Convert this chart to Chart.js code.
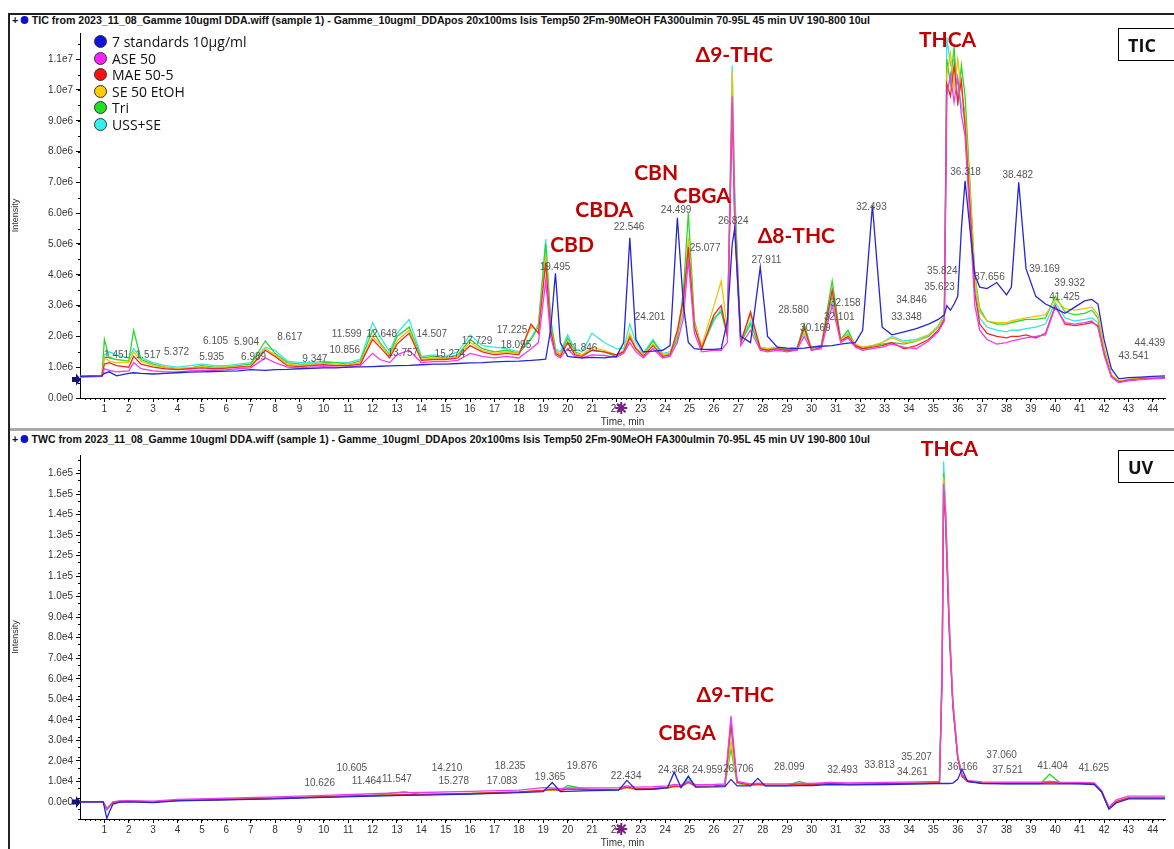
<!DOCTYPE html>
<html lang="en">
<head>
<meta charset="UTF-8">
<title>TIC / UV chromatograms</title>
<script src="https://cdn.jsdelivr.net/npm/chart.js"></script>
<style>
  body { margin: 0; background: #fff; width: 1174px; height: 849px; overflow: hidden; position: relative; font-family: "Liberation Sans", Arial, sans-serif; }
  canvas { position: absolute; }
  .line { position: absolute; background: #222; }
  .ptitle { position: absolute; left: 12px; font: bold 11px "Liberation Sans Narrow", "Liberation Sans", sans-serif; color: #111; white-space: nowrap; transform-origin: left center; }
  .ptitle .dot { display: inline-block; width: 8px; height: 8px; border-radius: 50%; background: #1010d0; margin: 0 3px 0 3px; }
  .legend { position: absolute; left: 94px; top: 34px; font: 14px "Open Sans", sans-serif; color: #111; line-height: 16.6px; }
  .legend div { white-space: nowrap; }
  .legend i { display: inline-block; width: 11px; height: 11px; border-radius: 50%; border: 1px solid #333; margin-right: 5px; vertical-align: -1px; }
  .tag { position: absolute; left: 1118px; width: 60px; height: 33px; border: 1px solid #000; font: bold 18px "Open Sans", sans-serif; line-height: 33px; padding-left: 9px; box-sizing: border-box; color: #111; }
</style>
</head>
<body>
<div class="line" style="left:8px;top:13px;width:1166px;height:2px"></div>
<div class="line" style="left:8px;top:13px;width:2px;height:836px"></div>
<div class="line" style="left:10px;top:428px;width:1164px;height:3px;background:#aaa"></div>

<div class="ptitle" id="t1" style="top:14px">+<span class="dot"></span>TIC from 2023_11_08_Gamme 10ugml DDA.wiff (sample 1) - Gamme_10ugml_DDApos 20x100ms Isis Temp50 2Fm-90MeOH FA300ulmin 70-95L 45 min UV 190-800 10ul</div>
<div class="ptitle" id="t2" style="top:433px">+<span class="dot"></span>TWC from 2023_11_08_Gamme 10ugml DDA.wiff (sample 1) - Gamme_10ugml_DDApos 20x100ms Isis Temp50 2Fm-90MeOH FA300ulmin 70-95L 45 min UV 190-800 10ul</div>

<canvas id="tic" width="1164" height="412" style="left:10px;top:16px"></canvas>
<canvas id="uv" width="1164" height="416" style="left:10px;top:433px"></canvas>

<div class="legend" id="legend"></div>
<div class="tag" style="top:28px">TIC</div>
<div class="tag" style="top:450px">UV</div>

<script>
// ---- series names / colours ----
const seriesNames = ["7 standards 10\u00b5g/ml", "ASE 50", "MAE 50-5", "SE 50 EtOH", "Tri", "USS+SE"];
const lineColors = ["#2626d4", "#f03cf0", "#f02828", "#ecc400", "#2ad82a", "#3ae4e4"];
const dotColors = ["#1010e0", "#ff20ff", "#ff1010", "#ffcc00", "#20e020", "#30f0f0"];

// ---- TIC (intensity in 1e6) ----
const tTic = [
  0, 0.9, 1.0, 1.2, 1.5, 2.0, 2.2, 2.5, 3.0, 3.5,
  4.0, 4.5, 5.0, 5.5, 6.0, 6.5, 7.0, 7.6, 8.0, 8.5,
  9.0, 9.5, 10.0, 10.5, 11.0, 11.5, 12.0, 12.3, 12.7, 13.0,
  13.5, 14.0, 14.5, 15.0, 15.5, 16.0, 16.5, 17.0, 17.5, 18.0,
  18.5, 18.8, 19.1, 19.3, 19.5, 19.7, 20.0, 20.3, 20.6, 21.0,
  21.5, 22.0, 22.3, 22.55, 22.8, 23.1, 23.5, 23.9, 24.2, 24.5,
  24.75, 24.95, 25.2, 25.5, 26.0, 26.3, 26.55, 26.75, 26.85, 27.1,
  27.5, 27.9, 28.2, 28.6, 29.0, 29.4, 29.7, 30.0, 30.4, 30.85,
  31.2, 31.5, 31.8, 32.1, 32.5, 32.9, 33.3, 33.8, 34.3, 34.8,
  35.2, 35.45, 35.55, 35.7, 35.85, 36.0, 36.15, 36.3, 36.5, 36.7,
  36.9, 37.2, 37.6, 38.0, 38.2, 38.5, 38.8, 39.2, 39.6, 40.0,
  40.4, 40.8, 41.2, 41.5, 41.75, 42.0, 42.3, 42.6, 43.0, 43.5,
  44.0, 44.5
];
const ticStd = [
  0.70, 0.72, 0.80, 0.85, 0.72, 0.80, 0.82, 0.80, 0.78, 0.80,
  0.82, 0.84, 0.85, 0.86, 0.87, 0.88, 0.92, 0.90, 0.92, 0.93,
  0.95, 0.96, 0.98, 0.98, 1.00, 1.01, 1.02, 1.03, 1.04, 1.05,
  1.06, 1.08, 1.10, 1.10, 1.12, 1.14, 1.15, 1.17, 1.19, 1.20,
  1.22, 1.24, 1.26, 2.20, 4.05, 1.80, 1.35, 1.32, 1.30, 1.32,
  1.30, 1.35, 1.80, 5.20, 1.90, 1.50, 1.52, 1.55, 1.70, 5.85,
  3.00, 1.80, 1.60, 1.58, 1.58, 1.60, 2.50, 5.00, 5.50, 2.00,
  1.80, 4.25, 2.00, 1.65, 1.62, 1.60, 1.62, 1.65, 1.68, 1.70,
  1.75, 1.78, 1.80, 2.20, 6.25, 2.30, 2.05, 2.15, 2.25, 2.40,
  2.55, 2.70, 3.00, 2.85, 3.05, 3.30, 5.50, 7.05, 5.50, 4.00,
  3.60, 3.55, 3.75, 3.35, 3.60, 7.00, 4.20, 3.30, 3.05, 2.90,
  2.75, 2.95, 3.15, 3.20, 3.05, 1.90, 0.95, 0.62, 0.66, 0.68,
  0.70, 0.72
];
const ticAse = [
  0.68, 0.70, 0.95, 0.90, 0.85, 0.88, 1.15, 0.95, 0.88, 0.85,
  0.85, 0.88, 0.90, 0.90, 0.92, 0.95, 0.98, 1.30, 1.15, 1.00,
  0.98, 1.00, 1.02, 1.00, 1.00, 1.05, 1.45, 1.25, 1.15, 1.40,
  1.55, 1.15, 1.18, 1.18, 1.22, 1.45, 1.35, 1.30, 1.35, 1.30,
  1.60, 1.80, 3.80, 2.00, 1.40, 1.30, 1.60, 1.35, 1.30, 1.40,
  1.38, 1.32, 1.45, 1.80, 1.50, 1.30, 1.60, 1.30, 1.35, 1.80,
  2.60, 4.50, 2.10, 1.50, 1.55, 1.55, 1.80, 9.80, 5.70, 1.70,
  2.20, 1.55, 1.50, 1.55, 1.50, 1.55, 2.00, 1.55, 1.60, 3.00,
  1.80, 1.95, 1.65, 1.55, 1.60, 1.65, 1.75, 1.65, 1.60, 1.85,
  2.15, 2.50, 9.80, 10.5, 9.60, 10.4, 9.20, 8.50, 5.80, 3.00,
  2.20, 1.90, 1.75, 1.80, 1.85, 1.90, 1.95, 2.00, 2.05, 2.95,
  2.45, 2.40, 2.45, 2.50, 2.30, 1.40, 0.68, 0.50, 0.56, 0.60,
  0.62, 0.64
];
const ticMae = [
  0.70, 0.72, 1.10, 1.15, 1.05, 1.00, 1.35, 1.10, 1.00, 0.95,
  0.92, 0.95, 0.98, 0.95, 0.97, 1.00, 1.02, 1.55, 1.35, 1.05,
  1.02, 1.05, 1.08, 1.05, 1.05, 1.10, 1.90, 1.65, 1.30, 1.75,
  2.10, 1.22, 1.25, 1.25, 1.30, 1.70, 1.50, 1.40, 1.45, 1.40,
  2.40, 2.10, 4.40, 2.20, 1.45, 1.35, 1.80, 1.40, 1.35, 1.55,
  1.50, 1.40, 1.50, 1.95, 1.60, 1.35, 1.70, 1.35, 1.40, 2.20,
  3.20, 4.90, 2.30, 1.60, 2.70, 3.00, 2.00, 9.60, 5.90, 1.80,
  2.80, 1.60, 1.55, 1.60, 1.55, 1.55, 2.30, 1.55, 1.65, 3.50,
  1.85, 2.00, 1.70, 1.60, 1.65, 1.70, 1.80, 1.60, 1.70, 1.90,
  2.20, 2.55, 10.2, 9.80, 10.8, 9.60, 10.3, 8.80, 6.20, 3.40,
  2.40, 2.10, 2.00, 1.95, 2.00, 2.00, 2.05, 1.95, 2.10, 3.00,
  2.40, 2.35, 2.40, 2.45, 2.35, 1.45, 0.70, 0.52, 0.58, 0.62,
  0.64, 0.66
];
const ticSe = [
  0.70, 0.72, 1.30, 1.20, 1.15, 1.15, 1.50, 1.20, 1.05, 1.00,
  0.95, 0.98, 1.02, 0.98, 1.00, 1.02, 1.05, 1.60, 1.40, 1.10,
  1.05, 1.08, 1.12, 1.10, 1.08, 1.15, 2.00, 1.75, 1.35, 1.85,
  2.20, 1.25, 1.30, 1.28, 1.35, 1.80, 1.55, 1.45, 1.50, 1.45,
  2.30, 2.20, 4.60, 2.30, 1.50, 1.40, 1.85, 1.45, 1.40, 1.65,
  1.55, 1.40, 1.55, 2.10, 1.65, 1.40, 1.75, 1.40, 1.45, 2.10,
  3.00, 5.20, 2.40, 1.70, 3.00, 3.80, 2.20, 10.6, 6.20, 1.85,
  2.70, 1.65, 1.60, 1.65, 1.60, 1.60, 2.20, 1.65, 1.70, 3.40,
  1.90, 2.05, 1.75, 1.65, 1.70, 1.80, 1.95, 1.80, 1.85, 2.05,
  2.30, 2.65, 10.5, 11.2, 10.0, 11.0, 10.0, 9.20, 6.80, 3.90,
  2.80, 2.50, 2.45, 2.45, 2.50, 2.55, 2.60, 2.65, 2.70, 3.20,
  2.90, 2.85, 2.90, 2.95, 2.70, 1.65, 0.75, 0.55, 0.60, 0.64,
  0.66, 0.68
];
const ticTri = [
  0.70, 0.72, 1.90, 1.30, 1.25, 1.20, 2.20, 1.25, 1.10, 1.00,
  0.95, 0.98, 1.05, 1.00, 1.00, 1.05, 1.10, 1.85, 1.45, 1.15,
  1.10, 1.10, 1.15, 1.15, 1.10, 1.20, 2.20, 1.80, 1.40, 2.00,
  2.30, 1.30, 1.35, 1.30, 1.40, 1.90, 1.60, 1.50, 1.55, 1.45,
  1.90, 2.30, 5.00, 2.50, 1.55, 1.40, 1.95, 1.50, 1.40, 1.55,
  1.50, 1.35, 1.50, 2.00, 1.60, 1.40, 1.85, 1.40, 1.45, 1.90,
  3.50, 6.00, 2.50, 1.60, 2.60, 2.80, 2.00, 10.0, 6.50, 1.80,
  2.40, 1.60, 1.55, 1.60, 1.55, 1.60, 2.40, 1.60, 1.70, 3.80,
  1.90, 2.20, 1.70, 1.60, 1.70, 1.75, 1.80, 1.75, 1.85, 2.00,
  2.30, 2.60, 11.0, 10.2, 11.4, 9.50, 10.8, 9.80, 7.00, 4.00,
  2.90, 2.50, 2.40, 2.40, 2.45, 2.50, 2.55, 2.55, 2.60, 3.30,
  2.80, 2.70, 2.75, 2.85, 2.60, 1.60, 0.75, 0.55, 0.60, 0.65,
  0.65, 0.68
];
const ticUss = [
  0.68, 0.70, 1.40, 1.50, 1.40, 1.30, 1.60, 1.30, 1.15, 1.05,
  1.00, 1.05, 1.10, 1.05, 1.05, 1.10, 1.15, 1.65, 1.55, 1.20,
  1.15, 1.15, 1.20, 1.15, 1.15, 1.25, 2.45, 2.00, 1.50, 2.10,
  2.55, 1.35, 1.40, 1.35, 1.50, 2.05, 1.70, 1.65, 1.60, 1.50,
  1.95, 2.40, 5.15, 2.60, 1.60, 1.50, 2.05, 1.60, 1.50, 2.10,
  1.80, 1.60, 1.60, 2.40, 1.80, 1.45, 1.90, 1.45, 1.50, 2.00,
  2.80, 4.80, 2.30, 1.65, 2.50, 2.90, 2.10, 10.8, 6.80, 1.85,
  2.50, 1.65, 1.60, 1.65, 1.60, 1.65, 2.10, 1.65, 1.70, 3.20,
  1.90, 2.10, 1.70, 1.65, 1.70, 1.80, 2.00, 1.85, 1.90, 2.05,
  2.35, 2.70, 11.7, 10.8, 11.0, 10.3, 9.50, 9.00, 6.50, 3.60,
  2.60, 2.30, 2.20, 2.15, 2.20, 2.20, 2.25, 2.30, 2.40, 3.10,
  2.60, 2.50, 2.55, 2.60, 2.45, 1.50, 0.70, 0.52, 0.58, 0.62,
  0.64, 0.66
];

// ---- UV / TWC (intensity in 1e4) ----
const tUv = [
  0, 0.95, 1.1, 1.2, 1.35, 1.6, 2.0, 3.0, 4.0, 6.0,
  8.0, 10.0, 12.0, 13.3, 14.0, 16.0, 18.0, 19.0, 19.37, 19.7,
  20.0, 21.0, 22.1, 22.43, 22.8, 23.5, 24.1, 24.37, 24.65, 24.95,
  25.25, 26.0, 26.45, 26.7, 26.95, 27.5, 27.8, 28.1, 29.0, 29.5,
  30.0, 30.75, 31.5, 33.0, 34.5, 35.25, 35.36, 35.42, 35.5, 35.65,
  35.8, 36.0, 36.17, 36.4, 37.0, 38.0, 39.4, 39.77, 40.2, 41.0,
  41.6, 41.9, 42.2, 42.5, 43.0, 44.5
];
const uvStd = [
  0.00, 0.00, -0.80, -0.50, -0.10, -0.02, 0.00, -0.03, 0.05, 0.10,
  0.15, 0.22, 0.28, 0.32, 0.33, 0.38, 0.45, 0.50, 0.95, 0.50,
  0.52, 0.55, 0.58, 1.05, 0.60, 0.62, 0.70, 1.45, 0.70, 1.25,
  0.72, 0.73, 0.75, 1.10, 0.78, 0.78, 1.15, 0.78, 0.78, 0.80,
  0.80, 0.85, 0.83, 0.85, 0.88, 0.90, 0.90, 0.90, 0.90, 0.90,
  0.92, 1.10, 1.60, 1.00, 0.90, 0.88, 0.88, 0.88, 0.88, 0.88,
  0.85, 0.50, -0.35, -0.05, 0.15, 0.15
];
const uvAse = [
  0.00, 0.00, -0.35, -0.20, 0.00, 0.05, 0.06, 0.04, 0.12, 0.18,
  0.25, 0.32, 0.40, 0.45, 0.46, 0.52, 0.58, 0.70, 0.68, 0.65,
  0.68, 0.68, 0.70, 0.78, 0.72, 0.74, 0.78, 0.85, 0.82, 1.00,
  0.84, 0.85, 0.88, 4.20, 1.00, 0.88, 0.92, 0.88, 0.88, 0.92,
  0.90, 0.95, 0.93, 0.95, 0.98, 1.00, 6.00, 15.5, 14.0, 8.60,
  4.80, 2.20, 1.35, 1.05, 0.98, 0.96, 0.96, 1.00, 0.97, 0.95,
  0.93, 0.55, -0.25, 0.10, 0.28, 0.28
];
const uvMae = [
  0.00, 0.00, -0.35, -0.22, -0.03, 0.03, 0.04, 0.00, 0.08, 0.13,
  0.19, 0.26, 0.32, 0.36, 0.37, 0.42, 0.49, 0.56, 0.62, 0.57,
  0.62, 0.60, 0.62, 0.72, 0.64, 0.66, 0.70, 0.77, 0.75, 0.95,
  0.77, 0.78, 0.82, 3.80, 0.95, 0.82, 0.87, 0.82, 0.82, 0.88,
  0.84, 0.90, 0.87, 0.89, 0.92, 0.94, 6.20, 15.2, 13.6, 8.30,
  4.60, 2.10, 1.25, 1.00, 0.93, 0.91, 0.91, 0.97, 0.93, 0.91,
  0.89, 0.50, -0.30, 0.02, 0.20, 0.20
];
const uvSe = [
  0.00, 0.00, -0.35, -0.20, -0.02, 0.03, 0.04, 0.00, 0.08, 0.13,
  0.18, 0.25, 0.31, 0.36, 0.36, 0.41, 0.48, 0.56, 0.60, 0.56,
  0.62, 0.59, 0.61, 0.70, 0.63, 0.65, 0.69, 0.76, 0.75, 0.95,
  0.76, 0.77, 0.80, 3.00, 0.92, 0.81, 0.86, 0.81, 0.81, 0.88,
  0.83, 0.90, 0.86, 0.88, 0.91, 0.93, 6.80, 15.8, 14.2, 8.80,
  4.90, 2.20, 1.30, 1.00, 0.93, 0.91, 0.91, 0.98, 0.93, 0.91,
  0.89, 0.50, -0.30, 0.02, 0.20, 0.20
];
const uvTri = [
  0.00, 0.00, -0.30, -0.20, 0.00, 0.03, 0.05, 0.00, 0.08, 0.12,
  0.18, 0.25, 0.32, 0.50, 0.36, 0.40, 0.48, 0.55, 0.58, 0.55,
  0.80, 0.58, 0.60, 0.70, 0.62, 0.64, 0.68, 0.75, 0.75, 1.25,
  0.75, 0.76, 0.80, 2.60, 0.90, 0.80, 0.85, 0.80, 0.80, 1.00,
  0.82, 0.95, 0.85, 0.87, 0.90, 0.92, 6.50, 16.0, 14.0, 8.50,
  4.80, 2.20, 1.30, 1.00, 0.92, 0.90, 0.90, 1.35, 0.92, 0.90,
  0.88, 0.50, -0.30, 0.00, 0.18, 0.18
];
const uvUss = [
  0.00, 0.00, -0.40, -0.25, -0.05, 0.02, 0.03, 0.00, 0.07, 0.12,
  0.17, 0.24, 0.30, 0.35, 0.35, 0.40, 0.47, 0.55, 0.60, 0.55,
  0.65, 0.58, 0.60, 0.72, 0.62, 0.64, 0.68, 0.78, 0.74, 1.10,
  0.75, 0.76, 0.80, 3.60, 0.95, 0.80, 0.88, 0.80, 0.80, 0.90,
  0.82, 0.92, 0.85, 0.87, 0.90, 0.92, 7.00, 16.6, 14.5, 9.00,
  5.00, 2.30, 1.30, 1.00, 0.92, 0.90, 0.90, 1.00, 0.92, 0.90,
  0.88, 0.50, -0.30, 0.00, 0.18, 0.18
];

// ---- axes ----
const xTicks = [1,2,3,4,5,6,7,8,9,10,11,12,13,14,15,16,17,18,19,20,21,22,23,24,25,26,27,28,29,30,31,32,33,34,35,36,37,38,39,40,41,42,43,44];
const ticYTicks = [0,1,2,3,4,5,6,7,8,9,10,11];
const uvYTicks = [0,1,2,3,4,5,6,7,8,9,10,11,12,13,14,15,16];

// ---- labels: [time, intensity, text] ----
const ticPeakLabels = [
  [1.5,1.40,"1.451"],[2.8,1.40,"1.517"],[3.96,1.49,"5.372"],[5.4,1.33,"5.935"],[5.56,1.85,"6.105"],
  [6.83,1.82,"5.904"],[7.12,1.33,"6.989"],[8.6,1.98,"8.617"],[9.63,1.27,"9.347"],[10.86,1.56,"10.856"],
  [10.94,2.08,"11.599"],[12.38,2.08,"12.648"],[13.24,1.46,"13.757"],[14.43,2.08,"14.507"],[15.17,1.43,"15.274"],
  [16.28,1.85,"17.729"],[17.72,2.21,"17.225"],[17.88,1.72,"18.095"],[19.48,4.25,"19.495"],[20.59,1.62,"21.846"],
  [22.52,5.55,"22.546"],[23.38,2.63,"24.201"],[24.45,6.10,"24.499"],[25.64,4.87,"25.077"],[26.79,5.75,"26.824"],
  [28.15,4.48,"27.911"],[29.26,2.86,"28.580"],[30.16,2.27,"30.169"],[31.39,3.08,"32.158"],[31.14,2.63,"32.101"],
  [32.46,6.20,"32.493"],[33.9,2.63,"33.348"],[34.1,3.18,"34.846"],[35.37,4.12,"35.824"],[35.25,3.60,"35.623"],
  [36.32,7.34,"36.318"],[37.3,3.93,"37.656"],[38.46,7.24,"38.482"],[39.56,4.19,"39.169"],[40.59,3.73,"39.932"],
  [40.38,3.28,"41.425"],[43.88,1.79,"44.439"],[43.22,1.36,"43.541"]
];
const uvPeakLabels = [
  [11.15,1.65,"10.605"],[9.83,0.92,"10.626"],[11.76,1.02,"11.464"],[13.0,1.12,"11.547"],[15.05,1.65,"14.210"],
  [15.33,1.02,"15.278"],[17.31,1.02,"17.083"],[17.64,1.75,"18.235"],[19.28,1.22,"19.365"],[20.59,1.75,"19.876"],
  [22.4,1.26,"22.434"],[24.33,1.56,"24.368"],[25.73,1.56,"24.959"],[27.0,1.60,"26.706"],[29.09,1.70,"28.099"],
  [31.27,1.56,"32.493"],[32.79,1.80,"33.813"],[34.14,1.46,"34.261"],[34.31,2.19,"35.207"],[36.2,1.70,"36.166"],
  [37.8,2.29,"37.060"],[38.04,1.56,"37.521"],[39.89,1.75,"41.404"],[41.58,1.65,"41.625"]
];
const ticCompounds = [
  [26.83,11.14,"\u03949-THC"],[35.58,11.62,"THCA"],[23.63,7.30,"CBN"],[25.52,6.56,"CBGA"],
  [21.5,6.10,"CBDA"],[20.18,4.97,"CBD"],[29.38,5.26,"\u03948-THC"]
];
const uvCompounds = [
  [35.66,17.2,"THCA"],[26.87,5.2,"\u03949-THC"],[24.9,3.36,"CBGA"]
];
const markerTime = 22.2;

// legend
document.getElementById("legend").innerHTML = seriesNames.map((n, i) =>
  `<div><i style="background:${dotColors[i]}"></i>${n}</div>`).join("");

// stretch the run titles to their width in the picture
["t1", "t2"].forEach(id => {
  const el = document.getElementById(id);
  const w = el.getBoundingClientRect().width;
  el.style.transform = `scaleX(${858 / w})`;
});

const overlay = {
  id: "overlay",
  afterDraw(chart, args, opts) {
    const { ctx, chartArea: a } = chart;
    const x = chart.scales.x, y = chart.scales.y;
    ctx.save();
    // minor ticks
    ctx.strokeStyle = "#000";
    ctx.lineWidth = 1;
    ctx.beginPath();
    for (let t = 0.2; t < x.max; t += 0.2) {
      const px = Math.round(x.getPixelForValue(t)) + 0.5;
      ctx.moveTo(px, a.bottom); ctx.lineTo(px, a.bottom + 2);
    }
    for (let v = y.min; v < y.max; v += 0.5) {
      const py = Math.round(y.getPixelForValue(v)) + 0.5;
      ctx.moveTo(a.left - 2, py); ctx.lineTo(a.left, py);
    }
    ctx.stroke();

    // peak times
    ctx.fillStyle = "#555";
    ctx.font = '10px "Liberation Sans"';
    ctx.textAlign = "center";
    ctx.textBaseline = "middle";
    opts.peaks.forEach(([t, v, s]) => ctx.fillText(s, x.getPixelForValue(t), y.getPixelForValue(v)));

    // compound names
    ctx.fillStyle = "#c00000";
    ctx.font = 'bold 21px Lato';
    opts.compounds.forEach(([t, v, s]) => ctx.fillText(s, x.getPixelForValue(t), y.getPixelForValue(v)));

    // start arrow on the y axis
    const ay = y.getPixelForValue(opts.arrowAt);
    ctx.fillStyle = "#13137a";
    ctx.beginPath();
    ctx.moveTo(a.left - 8, ay - 2.5); ctx.lineTo(a.left - 4, ay - 2.5); ctx.lineTo(a.left - 4, ay - 6);
    ctx.lineTo(a.left + 1, ay); ctx.lineTo(a.left - 4, ay + 6); ctx.lineTo(a.left - 4, ay + 2.5);
    ctx.lineTo(a.left - 8, ay + 2.5);
    ctx.closePath(); ctx.fill();

    // current-time asterisk
    const mx = x.getPixelForValue(markerTime), my = a.bottom + 10;
    ctx.strokeStyle = "#7b1f86";
    ctx.lineWidth = 2;
    ctx.beginPath();
    for (let k = 0; k < 4; k++) {
      const ang = k * Math.PI / 4;
      ctx.moveTo(mx - 6 * Math.cos(ang), my - 6 * Math.sin(ang));
      ctx.lineTo(mx + 6 * Math.cos(ang), my + 6 * Math.sin(ang));
    }
    ctx.stroke();
    ctx.restore();
  }
};

function expLabel(unit) {
  return v => (v * unit).toExponential(1).replace("+", "");
}

function makeChart(id, times, series, yMin, yMax, yTicks, unit, padTop, peaks, compounds, arrowAt) {
  return new Chart(document.getElementById(id), {
    type: "line",
    data: {
      datasets: series.map((vals, i) => ({
        label: seriesNames[i],
        data: times.map((t, k) => ({ x: t, y: vals[k] })),
        borderColor: lineColors[i],
        borderWidth: 1.3,
        pointRadius: 0,
        tension: 0
      }))
    },
    options: {
      responsive: false,
      animation: false,
      devicePixelRatio: 1,
      layout: { padding: { top: padTop, right: 9, left: 0, bottom: 0 } },
      plugins: {
        legend: { display: false },
        tooltip: { enabled: false },
        overlay: { peaks, compounds, arrowAt }
      },
      scales: {
        x: {
          type: "linear", min: 0, max: 44.5,
          afterBuildTicks: s => { s.ticks = xTicks.map(v => ({ value: v })); },
          afterFit: s => { s.height = 30; },
          ticks: { font: { size: 10, family: "Liberation Sans" }, color: "#333", padding: 1, maxRotation: 0, autoSkip: false },
          grid: { drawOnChartArea: false, color: "#000", tickLength: 4 },
          border: { color: "#000" },
          title: { display: true, text: "Time, min", font: { size: 10, family: "Liberation Sans" }, color: "#333", padding: 0 }
        },
        y: {
          min: yMin, max: yMax,
          afterBuildTicks: s => { s.ticks = yTicks.map(v => ({ value: v })); },
          afterFit: s => { s.width = 70; },
          ticks: { callback: expLabel(unit), font: { size: 10, family: "Liberation Sans" }, color: "#333", padding: 3 },
          grid: { drawOnChartArea: false, color: "#000", tickLength: 4 },
          border: { color: "#000" },
          title: { display: true, text: "Intensity", font: { size: 9, family: "Liberation Sans" }, color: "#333", padding: 0 }
        }
      }
    },
    plugins: [overlay]
  });
}

makeChart("tic", tTic, [ticStd, ticAse, ticMae, ticSe, ticTri, ticUss],
  0, 11.85, ticYTicks, 1e6, 17, ticPeakLabels, ticCompounds, 0.6);
makeChart("uv", tUv, [uvStd, uvAse, uvMae, uvSe, uvTri, uvUss],
  -0.83, 16.9, uvYTicks, 1e4, 22, uvPeakLabels, uvCompounds, 0);
</script>
</body>
</html>
